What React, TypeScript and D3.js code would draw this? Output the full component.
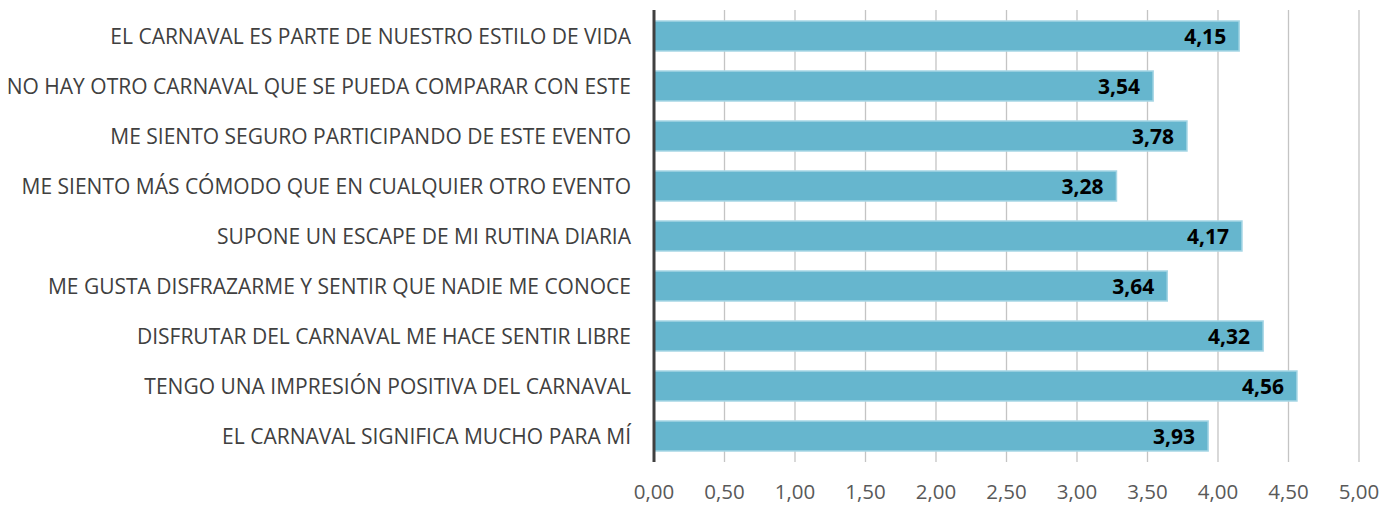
import React from "react";
import * as d3 from "d3";

const categories = [
  "EL CARNAVAL ES PARTE DE NUESTRO ESTILO DE VIDA",
  "NO HAY OTRO CARNAVAL QUE SE PUEDA COMPARAR CON ESTE",
  "ME SIENTO SEGURO PARTICIPANDO DE ESTE EVENTO",
  "ME SIENTO MÁS CÓMODO QUE EN CUALQUIER OTRO EVENTO",
  "SUPONE UN ESCAPE DE MI RUTINA DIARIA",
  "ME GUSTA DISFRAZARME Y SENTIR QUE NADIE ME CONOCE",
  "DISFRUTAR DEL CARNAVAL ME HACE SENTIR LIBRE",
  "TENGO UNA IMPRESIÓN POSITIVA DEL CARNAVAL",
  "EL CARNAVAL SIGNIFICA MUCHO PARA MÍ",
];
const values = [4.15, 3.54, 3.78, 3.28, 4.17, 3.64, 4.32, 4.56, 3.93];
const ticks = [0, 0.5, 1, 1.5, 2, 2.5, 3, 3.5, 4, 4.5, 5];

const W = 1399;
const H = 505;
const left = 654;
const right = 1359;
const top = 11;
const bottom = 461;
const FONT = "'Open Sans', Arial, sans-serif";
const fmt = (v: number) => v.toFixed(2).replace(".", ",");

export default function App() {
  const x = d3.scaleLinear().domain([0, 5]).range([left, right]);
  const y = d3.scaleBand<string>().domain(categories).range([top, bottom]).paddingInner(0.4).paddingOuter(0.2);
  return (
    <svg width={W} height={H} style={{ position: "absolute", left: 0, top: 0, background: "#fff" }}>
      {ticks.slice(1).map((t) => (
        <line key={t} x1={x(t)} x2={x(t)} y1={top - 1} y2={bottom + 1} stroke="#c4c4c4" strokeWidth={1.3} />
      ))}
      {categories.map((c, i) => (
        <g key={c}>
          <rect
            x={x(0)}
            y={y(c)!}
            width={x(values[i]) - x(0)}
            height={y.bandwidth()}
            fill="#66b6ce"
            stroke="#a6d6e5"
            strokeWidth={1.5}
          />
          <text
            x={x(values[i]) - 13}
            y={y(c)! + y.bandwidth() / 2}
            dy="0.36em"
            textAnchor="end"
            fontFamily={FONT}
            fontWeight="bold"
            fontSize={21}
            fill="#000"
          >
            {fmt(values[i])}
          </text>
          <text
            x={631}
            y={y(c)! + y.bandwidth() / 2}
            dy="0.36em"
            textAnchor="end"
            fontFamily={FONT}
            fontSize={21}
            fill="#404040"
          >
            {c}
          </text>
        </g>
      ))}
      <line x1={x(0)} x2={x(0)} y1={top - 1} y2={bottom + 1} stroke="#404040" strokeWidth={3} />
      {ticks.map((t) => (
        <text key={t} x={x(t)} y={492} dy="0.36em" textAnchor="middle" fontFamily={FONT} fontSize={20.5} fill="#595959">
          {fmt(t)}
        </text>
      ))}
    </svg>
  );
}
